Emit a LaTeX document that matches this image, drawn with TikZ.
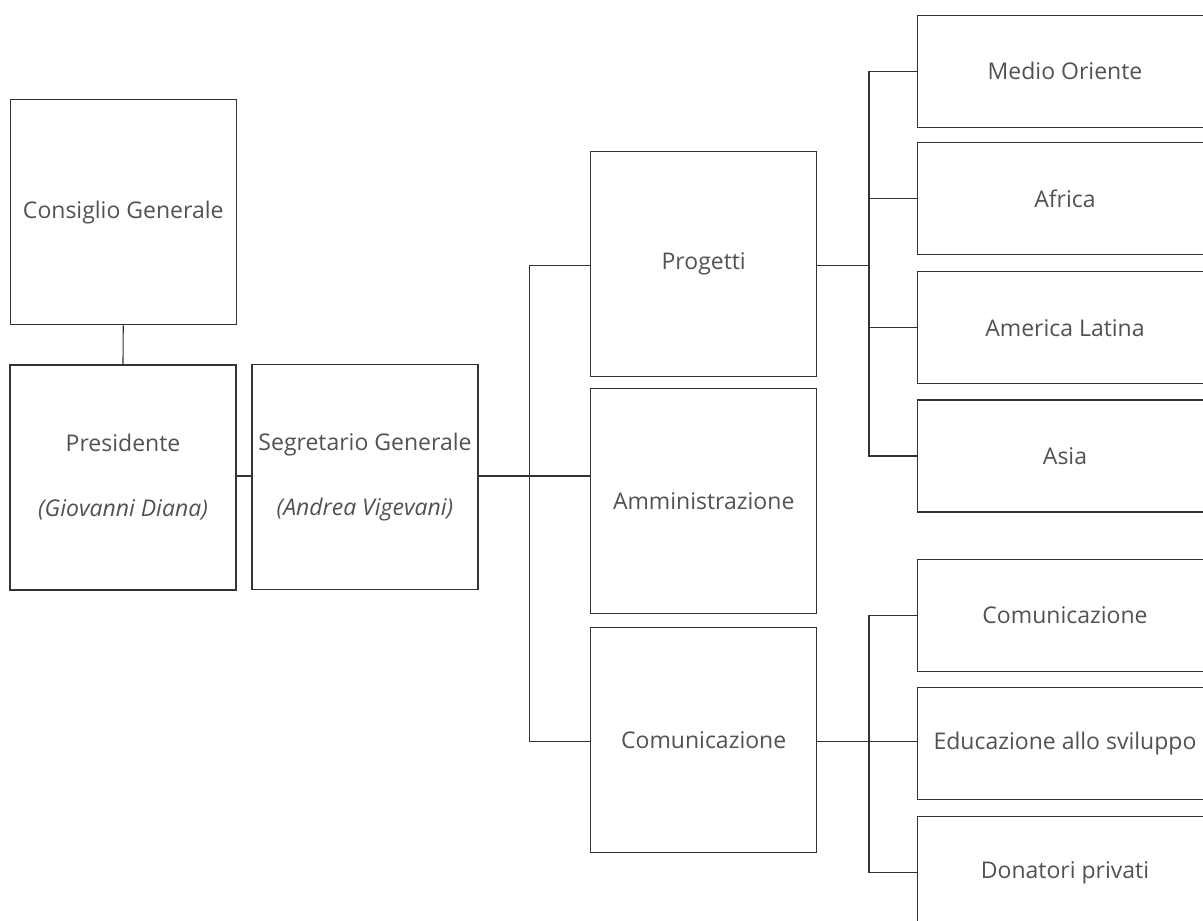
\documentclass[tikz,border=0pt]{standalone}
\usepackage{fontspec}
\setmainfont{Open Sans}
\begin{document}
\begin{tikzpicture}[x=1pt,y=-1pt,
  box/.style={draw=black!80, line width=1.2pt, rectangle, inner sep=0pt, align=center,
    text=black!68, font=\fontsize{23}{65}\selectfont},
  bigbox/.style={box, minimum width=226pt, minimum height=225pt},
  rbox/.style={box, minimum width=295pt, minimum height=112pt},
  link/.style={draw=black!80, line width=1.1pt}]
\useasboundingbox (0,0) rectangle (1203,921);
\clip (0,0) rectangle (1203,921);
\fill[white] (0,0) rectangle (1203,921);
% left column
\node[bigbox] (cons) at (123.25,212.25) {Consiglio Generale};
\node[bigbox] (pres) at (123,477.5) {Presidente\\\textit{(Giovanni Diana)}};
\node[bigbox] (seg) at (365,477) {Segretario Generale\\\textit{(Andrea Vigevani)}};
% middle column
\node[bigbox] (prog) at (703.7,264.2) {Progetti};
\node[bigbox] (amm) at (703.7,500.8) {Amministrazione};
\node[bigbox] (com) at (703.7,740) {Comunicazione};
% right column
\node[rbox] (mo) at (1065,71.3) {Medio Oriente};
\node[rbox] (af) at (1065,198.5) {Africa};
\node[rbox] (al) at (1065,327.8) {America Latina};
\node[rbox] (as) at (1065,456) {Asia};
\node[rbox] (com2) at (1065,615.5) {Comunicazione};
\node[rbox] (edu) at (1065,743.5) {Educazione allo sviluppo};
\node[rbox] (don) at (1065,872.8) {Donatori privati};
% bus coordinates
\coordinate (busA) at (529.5,476);
\coordinate (busB) at (869,265.7);
\coordinate (busC) at (869,741.7);
% connectors
\draw[link] (cons.south) -- (pres.north);
\draw[link] (pres.east |- busA) -- (seg.west |- busA);
\draw[link] (seg.east |- busA) -- (amm.west |- busA);
\draw[link] (prog.west |- busB) -| (busA) |- (com.west |- busC);
\draw[link] (prog.east |- busB) -- (busB);
\draw[link] (mo.west) -- (mo.west -| busB) -- (as.west -| busB) -- (as.west);
\draw[link] (af.west) -- (af.west -| busB);
\draw[link] (al.west) -- (al.west -| busB);
\draw[link] (com.east |- busC) -- (edu.west |- busC);
\draw[link] (com2.west) -- (com2.west -| busC) -- (don.west -| busC) -- (don.west);
\end{tikzpicture}
\end{document}
